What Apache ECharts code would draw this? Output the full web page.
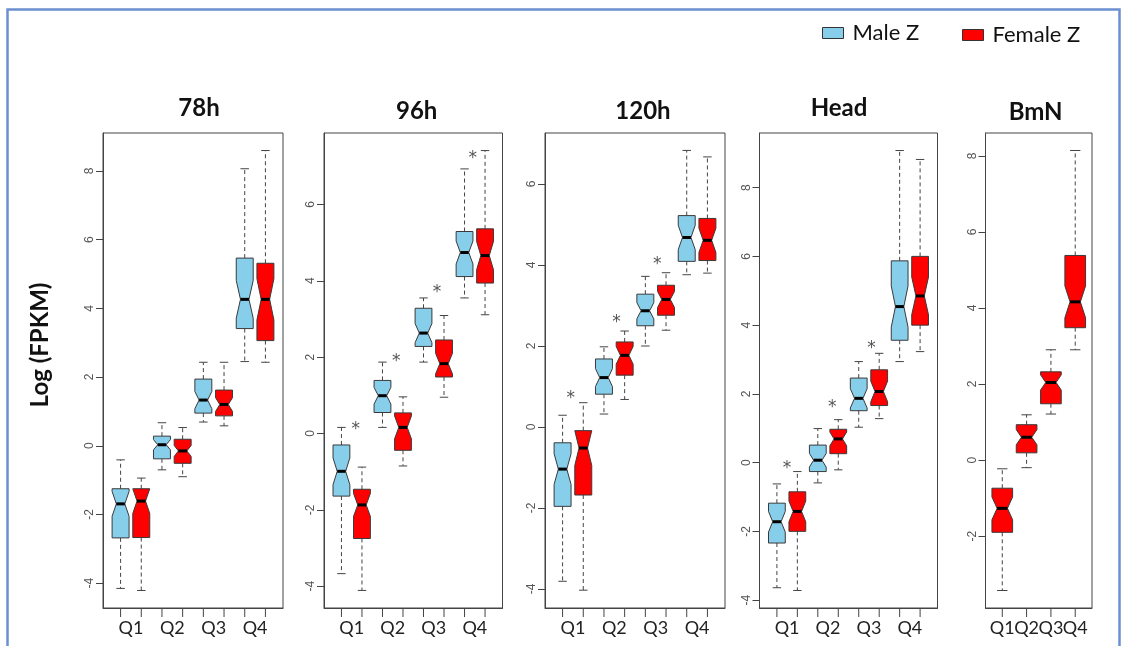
<!DOCTYPE html>
<html>
<head>
<meta charset="utf-8">
<title>Log (FPKM) boxplots</title>
<script src="https://cdn.jsdelivr.net/npm/echarts@6/dist/echarts.min.js"></script>
<style>
  html, body { margin: 0; padding: 0; background: #fff; }
  #main { width: 1128px; height: 646px; }
</style>
</head>
<body>
<div id="main"></div>
<script>
// panel titles and category labels
var panelNames = ['78h', '96h', '120h', 'Head', 'BmN'];
var quarters = ['Q1', 'Q2', 'Q3', 'Q4'];

// box stats per quartile: [lower whisker, lower hinge, median, upper hinge, upper whisker]
var male78 = [[-4.15, -2.68, -1.69, -1.25, -0.41], [-0.70, -0.38, 0.03, 0.28, 0.67], [0.69, 0.95, 1.33, 1.94, 2.43], [2.45, 3.41, 4.26, 5.46, 8.06]];
var female78 = [[-4.21, -2.67, -1.61, -1.25, -0.94], [-0.90, -0.51, -0.15, 0.19, 0.53], [0.58, 0.87, 1.20, 1.62, 2.43], [2.43, 3.06, 4.26, 5.31, 8.59]];
var male96 = [[-3.67, -1.64, -0.99, -0.30, 0.16], [0.16, 0.55, 0.99, 1.39, 1.87], [1.87, 2.28, 2.63, 3.28, 3.55], [3.55, 4.11, 4.74, 5.29, 6.93]];
var female96 = [[-4.11, -2.75, -1.87, -1.46, -0.88], [-0.85, -0.44, 0.16, 0.54, 0.96], [0.95, 1.48, 1.83, 2.45, 3.09], [3.11, 3.94, 4.66, 5.36, 7.41]];
var male120 = [[-3.81, -1.96, -1.04, -0.39, 0.29], [0.32, 0.81, 1.22, 1.68, 1.98], [2.00, 2.50, 2.87, 3.28, 3.72], [3.76, 4.09, 4.68, 5.22, 6.83]];
var female120 = [[-4.03, -1.68, -0.52, -0.09, 0.60], [0.68, 1.28, 1.77, 2.10, 2.37], [2.39, 2.76, 3.15, 3.50, 3.81], [3.80, 4.11, 4.61, 5.15, 6.67]];
var maleHead = [[-3.64, -2.34, -1.72, -1.18, -0.62], [-0.59, -0.26, 0.07, 0.51, 0.99], [1.03, 1.51, 1.87, 2.46, 2.94], [2.94, 3.56, 4.54, 5.87, 9.08]];
var femaleHead = [[-3.72, -2.00, -1.42, -0.85, -0.26], [-0.21, 0.26, 0.69, 0.97, 1.25], [1.28, 1.66, 2.07, 2.70, 3.18], [3.23, 4.00, 4.85, 6.00, 8.82]];
var femaleBmN = [[-3.43, -1.90, -1.27, -0.74, -0.23], [-0.20, 0.19, 0.60, 0.93, 1.19], [1.21, 1.48, 2.04, 2.32, 2.90], [2.90, 3.48, 4.16, 5.38, 8.14]];

// notch half-height (around the median)
var notchMale78 = [0.36, 0.15, 0.25, 0.55];
var notchFemale78 = [0.36, 0.16, 0.20, 0.60];
var notchMale96 = [0.35, 0.22, 0.25, 0.30];
var notchFemale96 = [0.30, 0.30, 0.27, 0.37];
var notchMale120 = [0.38, 0.22, 0.20, 0.30];
var notchFemale120 = [0.43, 0.22, 0.20, 0.30];
var notchMaleHead = [0.30, 0.20, 0.28, 0.60];
var notchFemaleHead = [0.30, 0.20, 0.30, 0.55];
var notchFemaleBmN = [0.30, 0.20, 0.20, 0.42];

// significance stars: [x position, y value]
var stars96 = [[1.7, 0.2], [3.67, 2.0], [5.66, 3.8], [7.4, 7.3]];
var stars120 = [[1.4, 0.81], [3.61, 2.67], [5.58, 4.10]];
var starsHead = [[1.5, -0.07], [3.71, 1.71], [5.63, 3.44]];

// y axis ranges and tick values
var yRanges = [[-4.72, 9.10], [-4.57, 7.87], [-4.47, 7.26], [-4.23, 9.59], [-3.89, 8.60]];
var yTicks = [[-4, -2, 0, 2, 4, 6, 8], [-4, -2, 0, 2, 4, 6], [-4, -2, 0, 2, 4, 6], [-4, -2, 0, 2, 4, 6, 8], [-2, 0, 2, 4, 6, 8]];

var maleColor = '#87CEEB';
var femaleColor = '#FF0000';

var grids = [
    { left: 103, top: 133, width: 180, height: 475 },
    { left: 324, top: 133, width: 178.5, height: 475 },
    { left: 545, top: 133, width: 180, height: 475 },
    { left: 759.5, top: 133, width: 178, height: 475 },
    { left: 985.5, top: 133, width: 106.5, height: 475 }
];

function makeBox(wex, fill) {
    return function (params, api) {
        var x = api.value(0);
        var wb = api.value(1), q1 = api.value(2), med = api.value(3), q3 = api.value(4), wt = api.value(5);
        var n = api.value(6);
        var nHi = Math.min(med + n, q3);
        var nLo = Math.max(med - n, q1);
        var w = api.size([wex, 0])[0] / 2;
        var px = api.coord([x, med])[0];
        var yy = function (v) { return api.coord([x, v])[1]; };
        var ym = yy(med), yq1 = yy(q1), yq3 = yy(q3), ynh = yy(nHi), ynl = yy(nLo), ywt = yy(wt), ywb = yy(wb);
        var dash = { stroke: '#444', lineWidth: 1, lineDash: [4, 3] };
        var solid = { stroke: '#444', lineWidth: 1 };
        return {
            type: 'group',
            children: [
                { type: 'line', shape: { x1: px, y1: yq3, x2: px, y2: ywt }, style: dash },
                { type: 'line', shape: { x1: px, y1: yq1, x2: px, y2: ywb }, style: dash },
                { type: 'line', shape: { x1: px - w / 2, y1: ywt, x2: px + w / 2, y2: ywt }, style: solid },
                { type: 'line', shape: { x1: px - w / 2, y1: ywb, x2: px + w / 2, y2: ywb }, style: solid },
                {
                    type: 'polygon',
                    shape: {
                        points: [
                            [px - w, yq3], [px + w, yq3], [px + w, ynh], [px + w / 2, ym], [px + w, ynl],
                            [px + w, yq1], [px - w, yq1], [px - w, ynl], [px - w / 2, ym], [px - w, ynh]
                        ]
                    },
                    style: { fill: fill, stroke: '#3a3a3a', lineWidth: 1 }
                },
                { type: 'line', shape: { x1: px - w / 2, y1: ym, x2: px + w / 2, y2: ym }, style: { stroke: '#000', lineWidth: 3 } }
            ]
        };
    };
}

function renderStar(params, api) {
    var p = api.coord([api.value(0), api.value(1)]);
    return {
        type: 'text',
        x: p[0],
        y: p[1] + 4,
        style: {
            text: '*', fill: '#555', font: '17px "DejaVu Sans"',
            align: 'center', verticalAlign: 'middle', textAlign: 'center', textVerticalAlign: 'middle'
        }
    };
}

function rows(slots, stats, notches) {
    return stats.map(function (s, i) {
        return [slots[i]].concat(s).concat([notches[i]]);
    });
}

var pairSlots = { male: [1, 3, 5, 7], female: [2, 4, 6, 8] };
var pairCenters = [1.5, 3.5, 5.5, 7.5];
var singleSlots = [1, 2, 3, 4];

var panelData = [
    { male: male78, female: female78, nm: notchMale78, nf: notchFemale78, stars: [] },
    { male: male96, female: female96, nm: notchMale96, nf: notchFemale96, stars: stars96 },
    { male: male120, female: female120, nm: notchMale120, nf: notchFemale120, stars: stars120 },
    { male: maleHead, female: femaleHead, nm: notchMaleHead, nf: notchFemaleHead, stars: starsHead },
    { male: null, female: femaleBmN, nm: null, nf: notchFemaleBmN, stars: [] }
];

function xAxisDef(gridIndex, range, labelPos, allPos) {
    return {
        gridIndex: gridIndex, type: 'value',
        min: range[0], max: range[1],
        axisLine: { onZero: false, lineStyle: { color: '#444' } },
        splitLine: { show: false },
        axisTick: { show: false },
        axisLabel: {
            customValues: labelPos, margin: 11, color: '#222', fontSize: 18, fontFamily: 'Lato',
            formatter: function (v) {
                var k = allPos.indexOf(v);
                return k >= 0 ? quarters[k] : '';
            }
        }
    };
}

var xAxes = [], yAxes = [], series = [];
var tickSets = [];
var axisCount = 0;
panelData.forEach(function (pd, i) {
    var single = !pd.male;
    var xIdx = axisCount;
    var tickPos = single ? singleSlots : pairSlots.male.concat(pairSlots.female).sort();
    tickSets.push({ xIdx: xIdx, yIdx: i, ticks: tickPos });
    if (single) {
        // second label axis so that the tightly packed labels are not dropped
        xAxes.push(xAxisDef(i, [0.31, 4.69], [1, 3], singleSlots));
        var extra = xAxisDef(i, [0.31, 4.69], [2, 4], singleSlots);
        extra.position = 'bottom';
        extra.axisLine.show = false;
        xAxes.push(extra);
        axisCount += 2;
    } else {
        xAxes.push(xAxisDef(i, [0.15, 8.85], pairCenters, pairCenters));
        axisCount += 1;
    }
    yAxes.push({
        gridIndex: i, type: 'value', min: yRanges[i][0], max: yRanges[i][1],
        axisLine: { lineStyle: { color: '#444' } }, splitLine: { show: false },
        axisTick: { show: true, customValues: yTicks[i], length: 7, lineStyle: { color: '#444' } },
        axisLabel: { customValues: yTicks[i], rotate: 90, margin: 7, color: '#555', fontSize: 12, fontFamily: 'Liberation Sans' }
    });
    if (pd.male) {
        series.push({
            type: 'custom', name: 'Male Z', xAxisIndex: xIdx, yAxisIndex: i,
            renderItem: makeBox(0.82, maleColor), itemStyle: { color: maleColor },
            encode: { x: 0, y: 3 }, data: rows(pairSlots.male, pd.male, pd.nm)
        });
    }
    series.push({
        type: 'custom', name: 'Female Z', xAxisIndex: xIdx, yAxisIndex: i,
        renderItem: makeBox(single ? 0.85 : 0.82, femaleColor), itemStyle: { color: femaleColor },
        encode: { x: 0, y: 3 }, data: rows(single ? singleSlots : pairSlots.female, pd.female, pd.nf)
    });
    if (pd.stars.length) {
        series.push({
            type: 'custom', name: 'stars', xAxisIndex: xIdx, yAxisIndex: i,
            renderItem: renderStar, encode: { x: 0, y: 1 }, data: pd.stars, silent: true
        });
    }
});

var titlePos = [[199, 108], [416.7, 111.5], [643, 111], [839, 108.5], [1035.6, 112.5]];
var graphics = [
    { type: 'rect', shape: { x: 7.5, y: 9.5, width: 1112, height: 680 }, style: { fill: 'none', stroke: '#6a90d0', lineWidth: 2.5 }, silent: true },
    {
        type: 'text', x: 40, y: 345, rotation: Math.PI / 2,
        style: { text: 'Log (FPKM)', font: 'bold 24px Lato', fill: '#111', align: 'center', verticalAlign: 'middle' }
    }
];
panelNames.forEach(function (name, i) {
    graphics.push({
        type: 'text', x: titlePos[i][0], y: titlePos[i][1],
        style: { text: name, font: 'bold 24px Lato', fill: '#111', align: 'center', verticalAlign: 'middle' }
    });
});

var chart = echarts.init(document.getElementById('main'), null, { renderer: 'canvas' });
chart.setOption({
    animation: false,
    backgroundColor: '#fff',
    grid: grids.map(function (g) {
        return Object.assign({ show: true, borderColor: '#444', borderWidth: 1, backgroundColor: 'transparent' }, g);
    }),
    legend: [
        {
            data: ['Male Z'], left: 822, top: 22, padding: 0, icon: 'rect', itemWidth: 21, itemHeight: 11, itemGap: 0,
            itemStyle: { borderColor: '#333', borderWidth: 1 },
            textStyle: { fontSize: 22, color: '#111', fontFamily: 'Lato', padding: [0, 0, 0, 4] }, selectedMode: false
        },
        {
            data: ['Female Z'], left: 962, top: 24, padding: 0, icon: 'rect', itemWidth: 21, itemHeight: 11, itemGap: 0,
            itemStyle: { borderColor: '#333', borderWidth: 1 },
            textStyle: { fontSize: 22, color: '#111', fontFamily: 'Lato', padding: [0, 0, 0, 4] }, selectedMode: false
        }
    ],
    xAxis: xAxes,
    yAxis: yAxes,
    series: series,
    graphic: graphics
});

// x-axis tick marks below each frame, positioned with the axis scales
var tickLines = [];
tickSets.forEach(function (ts) {
    ts.ticks.forEach(function (t) {
        var p = chart.convertToPixel({ xAxisIndex: ts.xIdx, yAxisIndex: ts.yIdx }, [t, yRanges[ts.yIdx][0]]);
        if (p) {
            tickLines.push({
                type: 'line', z: 100, silent: true,
                shape: { x1: p[0], y1: p[1], x2: p[0], y2: p[1] + 9 },
                style: { stroke: '#444', lineWidth: 1 }
            });
        }
    });
});
chart.setOption({ graphic: graphics.concat(tickLines) });
</script>
</body>
</html>
